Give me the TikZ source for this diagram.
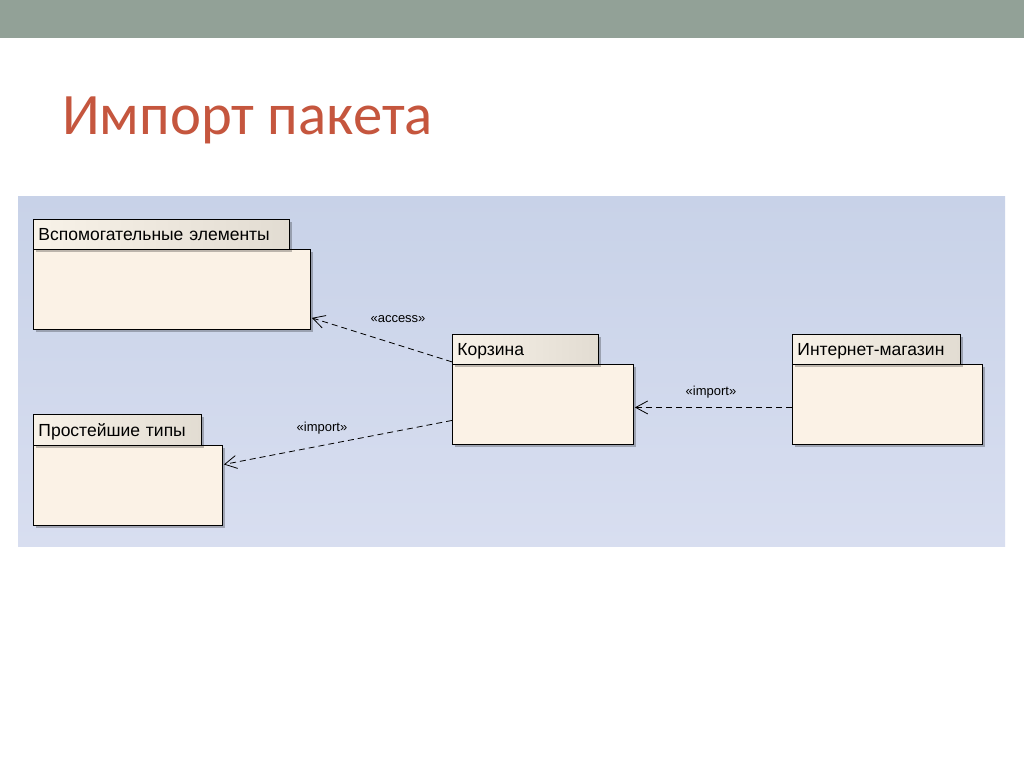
\documentclass[tikz,border=0pt]{standalone}
\usepackage{fontspec}
\setmainfont{Liberation Sans}
\newfontfamily\titlefont{Carlito}
\usetikzlibrary{arrows.meta,shadows,calc}
\definecolor{topbar}{RGB}{146,161,151}
\definecolor{titlecol}{RGB}{197,86,62}
\definecolor{bgtop}{RGB}{200,210,232}
\definecolor{bgbot}{RGB}{216,222,240}
\definecolor{tabl}{RGB}{248,242,232}
\definecolor{tabr}{RGB}{226,220,210}
\definecolor{bodyfill}{RGB}{251,242,230}
\tikzset{
  pkgtab/.style={draw=black, line width=0.9pt, left color=tabl, right color=tabr,
    anchor=north west, inner xsep=5pt, inner ysep=0pt, align=left,
    font=\fontsize{17.5}{19}\selectfont, text depth=0pt,
    drop shadow={shadow xshift=3pt, shadow yshift=-3pt, fill=black, opacity=0.25}},
  pkgbody/.style={draw=black, line width=0.9pt, fill=bodyfill, anchor=north west,
    inner sep=0pt,
    drop shadow={shadow xshift=3pt, shadow yshift=-3pt, fill=black, opacity=0.25}},
  dep/.style={line width=0.8pt, dash pattern=on 6pt off 4pt,
    -{Straight Barb[length=12pt,width=13pt,line width=0.8pt]}},
  lbl/.style={font=\fontsize{13}{14}\selectfont, inner sep=0pt}
}
\begin{document}
\begin{tikzpicture}[x=1pt,y=-1pt]
\useasboundingbox (0,0) rectangle (1024,767);
\fill[white] (0,0) rectangle (1024,767);
\fill[topbar] (0,0) rectangle (1024,38);
\node[anchor=base west, inner sep=0pt, text=titlecol, font=\titlefont\fontsize{58.7}{64}\selectfont] (title) at (62,135) {Импорт пакета};
\shade[top color=bgtop, bottom color=bgbot] (18,197) rectangle (1005,546);
% packages
\node[pkgbody, minimum width=277, minimum height=80] (vbody) at (33,249) {};
\node[pkgtab, minimum width=256, minimum height=30, text width=246] (vtab) at (33,219) {Вспомогательные элементы};
\node[pkgbody, minimum width=189, minimum height=80] (pbody) at (33,445) {};
\node[pkgtab, minimum width=168, minimum height=31, text width=158] (ptab) at (33,414) {Простейшие типы};
\node[pkgbody, minimum width=181, minimum height=80] (kbody) at (452,364) {};
\node[pkgtab, minimum width=146, minimum height=30, text width=136] (ktab) at (452,334) {Корзина};
\node[pkgbody, minimum width=190, minimum height=80] (mbody) at (792,364) {};
\node[pkgtab, minimum width=168, minimum height=30, text width=158] (mtab) at (792,334) {Интернет-магазин};
% dependencies
\draw[dep] ($(ktab.south west)+(0,-3)$) -- ($(vbody.south east)+(1,-12)$);
\draw[dep] ($(kbody.west)+(0,16)$) -- ($(pbody.east)+(1,-21)$);
\draw[dep] ($(mbody.west)+(0,3)$) -- ($(kbody.east)+(1,3)$);
\node[lbl] (la) at (398,319) {«access»};
\node[lbl] (li1) at (322,428) {«import»};
\node[lbl] (li2) at (711,392) {«import»};
\end{tikzpicture}
\end{document}
